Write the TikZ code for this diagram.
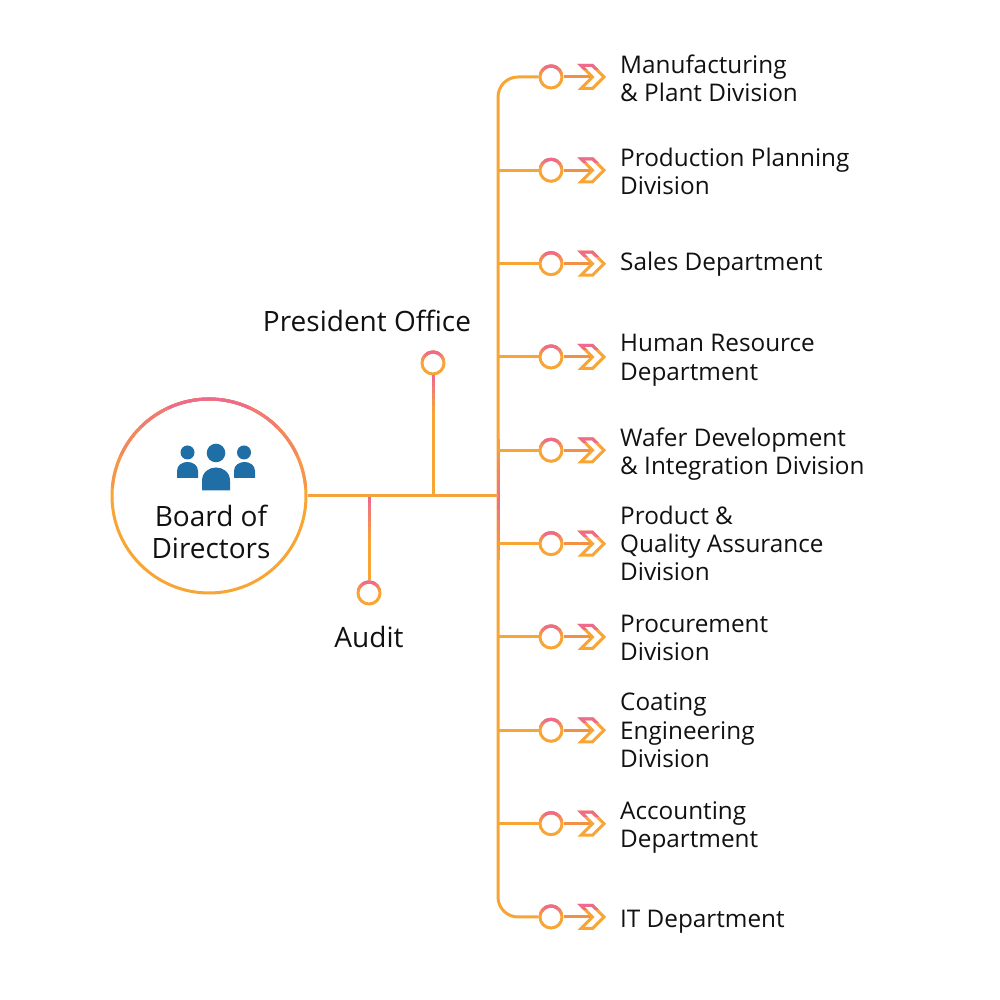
\documentclass[tikz,border=0pt]{standalone}
\usepackage{fontspec}
\setmainfont{Open Sans}
\usetikzlibrary{calc}
\definecolor{og}{HTML}{F8A535}
\definecolor{pk}{HTML}{EE6B8C}
\definecolor{om}{HTML}{F39048}
\definecolor{ic}{HTML}{1F6FA6}
\definecolor{tx}{HTML}{111111}
\begin{document}
\begin{tikzpicture}[x=1pt,y=1pt,
  conn/.style={draw=og, line width=3pt},
  ring/.style={circle, inner sep=0pt, minimum size=22pt, draw=og, line width=3pt, fill=white},
  lab/.style={font=\fontsize{24.3}{28.3}\selectfont, align=left, anchor=base west, inner sep=0pt, text=tx},
  big/.style={font=\fontsize{28}{31.5}\selectfont, align=center, anchor=base, inner sep=0pt, text=tx},
  chev/.style={line width=3pt, miter limit=10, line join=miter},
  seg/.style={line width=3pt, line cap=butt},
]
\useasboundingbox (0,0) rectangle (1000,1000);
\fill[white] (0,0) rectangle (1000,1000);

% junctions
\coordinate (j) at (498,504);
\coordinate (ja) at (369,504);
\coordinate (jp) at (433,504);

% board
\node[circle, inner sep=0pt, minimum size=194pt, draw=og, line width=3pt] (board) at (209,504) {};
\foreach \a/\p in {85/25,65/50,45/75,25/100}{
  \draw[seg, draw=pk!\p!og] ($(board.center)+(90-\a:97pt)$) arc[start angle=90-\a, end angle=90+\a, radius=97pt];
}
\fill[ic] (187.5,547.5) circle (7pt);
\fill[ic] (244,547.5) circle (7pt);
\fill[ic] (216,547) circle (9.3pt);
\fill[ic] (177,522) -- (177,529) .. controls (177,541) and (198,541) .. (198,529) -- (198,522) -- cycle;
\fill[ic] (234,522) -- (234,529) .. controls (234,541) and (255,541) .. (255,529) -- (255,522) -- cycle;
\fill[ic] (202,509.5) -- (202,519) .. controls (202,537) and (230,537) .. (230,519) -- (230,509.5) -- cycle;
\node[big] (bt) at (211,441.8) {Board of\\Directors};

% side rings
\node[ring] (pres) at (433,637) {};
\node[ring] (aud) at (369,407) {};
\foreach \c in {pres,aud}{
  \foreach \a/\p in {75/35,55/70,35/100}{
    \draw[seg, draw=pk!\p!og] ($(\c.center)+(90-\a:11pt)$) arc[start angle=90-\a, end angle=90+\a, radius=11pt];
  }
}
\node[big] (prest) at (367,668.3) {President Office};
\node[big] (audt) at (369,352.5) {Audit};

% branches
\foreach \i/\y in {1/923,2/829.7,3/736.3,4/643,5/549.7,6/456.3,7/363,8/269.7,9/176.3,10/83}{
  \node[ring] (c\i) at (551,\y) {};
  \foreach \a/\p in {75/35,55/70,35/100}{
    \draw[seg, draw=pk!\p!og] ($(c\i.center)+(90-\a:11pt)$) arc[start angle=90-\a, end angle=90+\a, radius=11pt];
  }
  \coordinate (n\i) at (592.5,\y);
  \draw[line width=3pt, draw=om] (c\i.east) -- (n\i);
  \draw[chev, og] (n\i) ++(-11.5,11.5) -- ++(11.5,0) -- ++(11.5,-11.5) -- ++(-11.5,-11.5) -- ++(-11.5,0) -- ++(11.5,11.5) -- cycle;
  \begin{scope}
    \clip ($(n\i)+(-20,16)$) rectangle ($(n\i)+(25,7.5)$);
    \draw[chev, pk] (n\i) ++(-11.5,11.5) -- ++(11.5,0) -- ++(11.5,-11.5) -- ++(-11.5,-11.5) -- ++(-11.5,0) -- ++(11.5,11.5) -- cycle;
  \end{scope}
}

% trunk and connectors
\draw[conn, rounded corners=20pt] (c1.west) -- (c1.west -| j) -- (c10.west -| j) -- (c10.west);
\foreach \k [evaluate=\k as \p using {int(max(0,100-1.6*abs(10*\k+5)))}] in {-6,...,5}{
  \draw[seg, draw=pk!\p!og] ($(j)+(0,10*\k-4)$) -- ++(0,10.5);
}
\foreach \i in {2,...,9}{
  \draw[conn] (c\i.west -| j) -- (c\i.west);
}
\draw[conn, draw=og!85!om] (board.east |- j) -- (j);
\draw[conn] (pres.south) -- (jp);
\foreach \k [evaluate=\k as \p using {int(100-18*\k)}] in {0,...,5}{
  \draw[seg, draw=pk!\p!og] ($(pres.south)+(0,-6*\k)$) -- ++(0,-6.5);
}
\draw[conn] (ja) -- (aud.north);
\foreach \k [evaluate=\k as \p using {int(100-15*\k)}] in {0,...,6}{
  \draw[seg, draw=pk!\p!og] ($(ja)+(0,-1.5-6*\k)$) -- ++(0,-6.5);
}

% labels (anchor = baseline of last line)
\node[lab] (l1) at (620,898.4) {Manufacturing\\\& Plant Division};
\node[lab] (l2) at (620,805.2) {Production Planning\\Division};
\node[lab] (l3) at (620,729.5) {Sales Department};
\node[lab] (l4) at (620,619.7) {Human Resource\\Department};
\node[lab] (l5) at (620,525.2) {Wafer Development\\\& Integration Division};
\node[lab] (l6) at (620,419.1) {Product \&\\Quality Assurance\\Division};
\node[lab] (l7) at (620,339.2) {Procurement\\Division};
\node[lab] (l8) at (620,232.4) {Coating\\Engineering\\Division};
\node[lab] (l9) at (620,152.2) {Accounting\\Department};
\node[lab] (l10) at (620,72) {IT Department};
\end{tikzpicture}
\end{document}
